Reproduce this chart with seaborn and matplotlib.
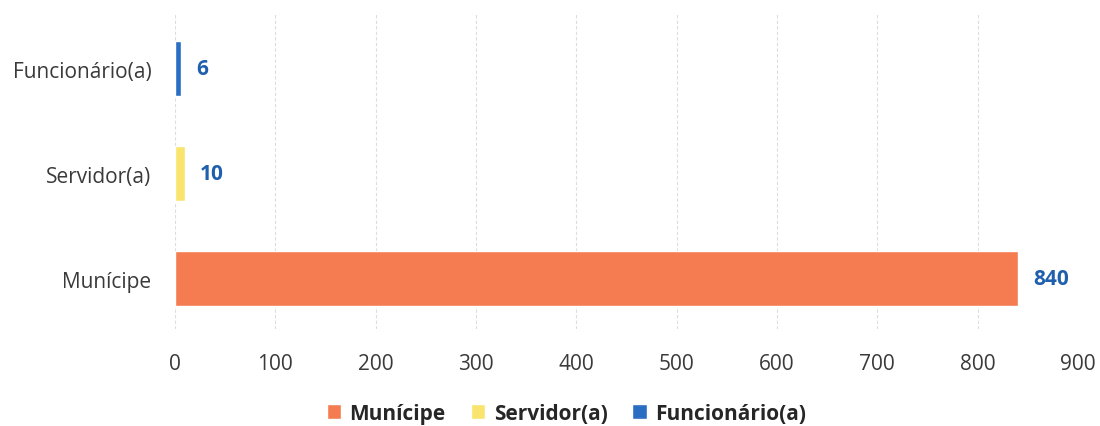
import matplotlib
matplotlib.use("Agg")
import matplotlib.pyplot as plt
import seaborn as sns
import pandas as pd

categories = ["Funcionário(a)", "Servidor(a)", "Munícipe"]
values = [6, 10, 840]
colors = ["#2A6EC4", "#F9E46E", "#F47C50"]
legend_order = ["Munícipe", "Servidor(a)", "Funcionário(a)"]
xticks = [0, 100, 200, 300, 400, 500, 600, 700, 800, 900]

sns.set_theme(style="white")
plt.rcParams['font.family'] = ['Open Sans', 'DejaVu Sans']

df = pd.DataFrame({"cat": categories, "val": values})
fig = plt.figure(figsize=(11, 4.27), dpi=100)
ax = fig.add_axes([0.159, 0.227, 0.821, 0.738])

sns.barplot(data=df, y="cat", x="val", hue="cat", order=categories,
            hue_order=categories, palette=dict(zip(categories, colors)),
            dodge=False, width=0.52, ax=ax, legend=True, saturation=1)

for c in ax.containers:
    ax.bar_label(c, padding=11, color="#1F5FAE", fontweight="bold", fontsize=15)

ax.set_xlim(0, 900)
ax.set_ylim(2.48, -0.52)
ax.set_xticks(xticks)
ax.set_xlabel("")
ax.set_ylabel("")
ax.grid(axis="x", color="#DDDDDD", linestyle=(0, (3, 2)), linewidth=0.8)
ax.set_axisbelow(True)
for s in ax.spines.values():
    s.set_visible(False)
ax.tick_params(axis="both", labelsize=15, colors="#3A3A3A", length=0)
ax.tick_params(axis="x", pad=17)
ax.tick_params(axis="y", pad=17)

handles, labels = ax.get_legend_handles_labels()
hmap = dict(zip(labels, handles))
ax.get_legend().remove()
fig.legend([hmap[l] for l in legend_order], legend_order, loc="center",
           bbox_to_anchor=(0.515, 0.03), ncol=3, frameon=False,
           prop={"weight": "bold", "size": 15}, handlelength=0.7, handleheight=0.7,
           columnspacing=1.2, handletextpad=0.4)

fig.savefig("out.png", dpi=100)
